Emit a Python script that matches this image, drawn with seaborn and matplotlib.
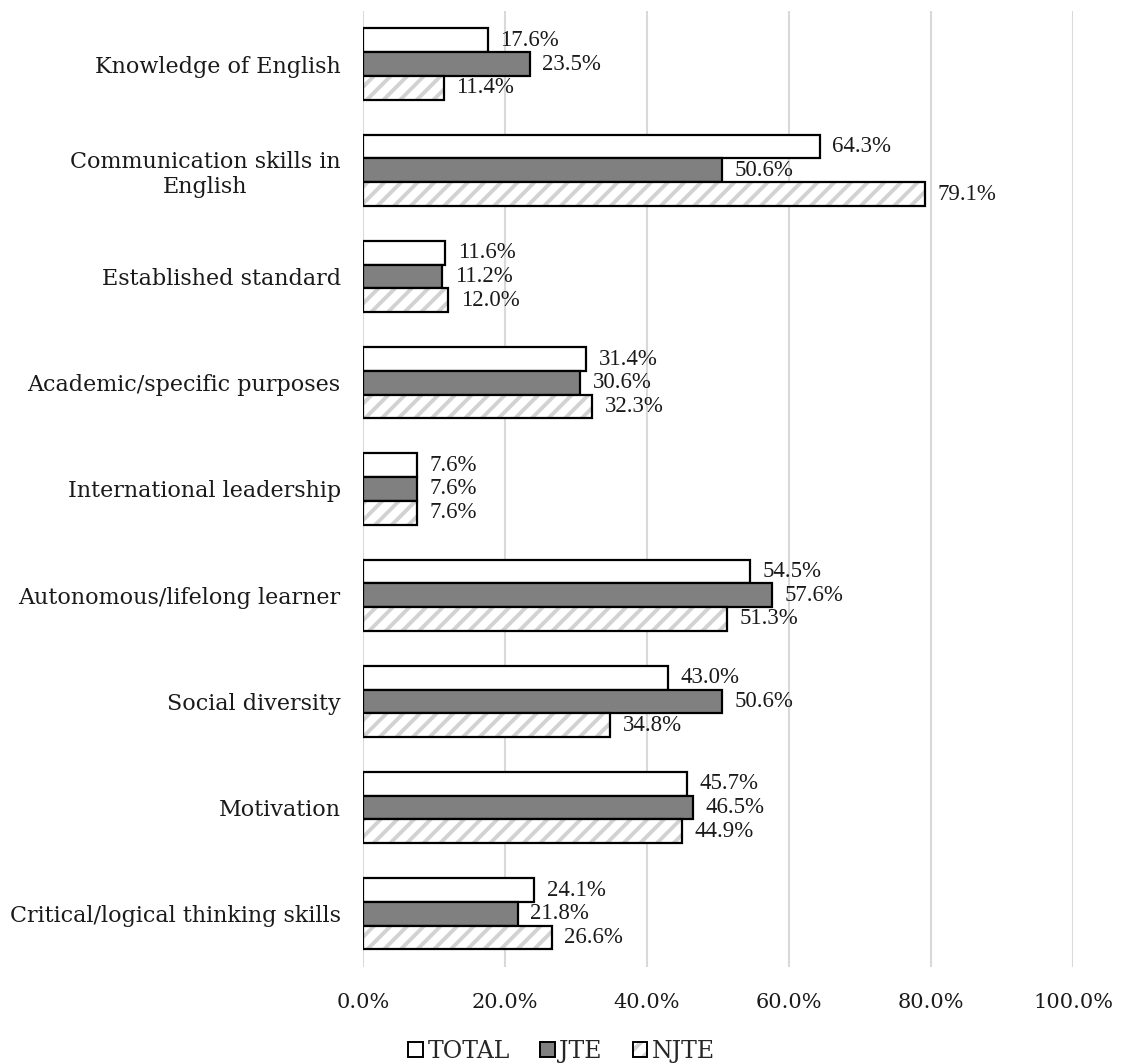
import matplotlib
matplotlib.use("Agg")
import matplotlib.pyplot as plt
from matplotlib.patches import Patch, Rectangle
from matplotlib.legend_handler import HandlerTuple
import seaborn as sns
import pandas as pd

categories = [
    "Knowledge of English",
    "Communication skills in\nEnglish",
    "Established standard",
    "Academic/specific purposes",
    "International leadership",
    "Autonomous/lifelong learner",
    "Social diversity",
    "Motivation",
    "Critical/logical thinking skills",
]
series = ["TOTAL", "JTE", "NJTE"]
total = [17.6, 64.3, 11.6, 31.4, 7.6, 54.5, 43.0, 45.7, 24.1]
jte = [23.5, 50.6, 11.2, 30.6, 7.6, 57.6, 50.6, 46.5, 21.8]
njte = [11.4, 79.1, 12.0, 32.3, 7.6, 51.3, 34.8, 44.9, 26.6]
xticks = [0, 20, 40, 60, 80, 100]

df = pd.DataFrame({
    "category": categories * 3,
    "group": [s for s in series for _ in categories],
    "value": [v / 100 for v in total + jte + njte],
})

sns.set_theme(style="white")
plt.rcParams["font.family"] = ["DejaVu Serif"]
plt.rcParams["hatch.linewidth"] = 2.8

fig = plt.figure(figsize=(11.23, 10.64), dpi=100)
ax = fig.add_axes([0.3232, 0.0912, 0.6323, 0.8985])

HATCH_GRAY = "#d2d2d2"
palette = {"TOTAL": "white", "JTE": "#808080", "NJTE": "white"}
sns.barplot(data=df, y="category", x="value", hue="group", order=categories,
            hue_order=series, palette=palette, edgecolor="black", linewidth=1.6,
            width=0.67, orient="h", ax=ax, legend=False, zorder=3)

# hatched fill for NJTE with a black outline drawn on top
for bar in ax.containers[2]:
    bar.set_hatch("//")
    bar.set_edgecolor(HATCH_GRAY)
    bar.set_linewidth(0)
    ax.add_patch(Rectangle((bar.get_x(), bar.get_y()), bar.get_width(), bar.get_height(),
                           fill=False, edgecolor="black", linewidth=1.6, zorder=4))

for cont, vals in zip(ax.containers, [total, jte, njte]):
    ax.bar_label(cont, labels=[f"{v:.1f}%" for v in vals], padding=9,
                 fontsize=16.5, family="Liberation Serif", color="#1a1a1a")

ax.set_xlim(0, 1.0)
ax.set_xticks([t / 100 for t in xticks])
ax.set_xticklabels([f"{t:.1f}%" for t in xticks])
ax.grid(axis="x", color="#d9d9d9", linewidth=1.5, zorder=0)
ax.grid(axis="y", visible=False)
for s in ax.spines.values():
    s.set_visible(False)
ax.set_xlabel("")
ax.set_ylabel("")
ax.tick_params(axis="x", length=0, pad=19, labelsize=15, colors="#1a1a1a")
ax.tick_params(axis="y", length=0, pad=16, labelsize=16, colors="#1a1a1a")
for lbl in ax.get_yticklabels():
    lbl.set_multialignment("center")

h_total = Patch(facecolor="white", edgecolor="black", linewidth=1.4)
h_jte = Patch(facecolor="#808080", edgecolor="black", linewidth=1.4)
h_njte = (Patch(facecolor="white", edgecolor=HATCH_GRAY, linewidth=0, hatch="//"),
          Patch(fill=False, edgecolor="black", linewidth=1.4))
fig.legend([h_total, h_jte, h_njte], series, loc="center",
           bbox_to_anchor=(0.5, 0.0115), ncol=3, frameon=False, fontsize=17,
           handlelength=0.6, handleheight=0.6, handletextpad=0.2,
           columnspacing=1.3, borderpad=0,
           handler_map={tuple: HandlerTuple(ndivide=1, pad=0)})

fig.savefig("out.png", dpi=100, facecolor="white")
